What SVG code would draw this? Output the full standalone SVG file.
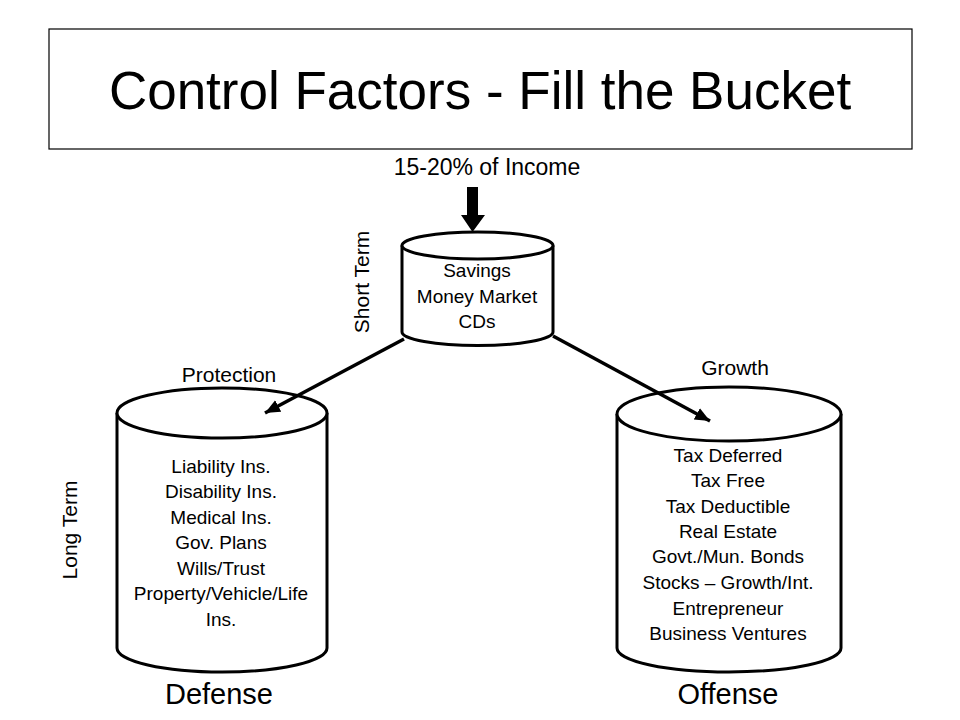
<svg xmlns="http://www.w3.org/2000/svg" width="960" height="720" viewBox="0 0 960 720">
<style>
text{font-family:"Liberation Sans",Arial,sans-serif;fill:#000;text-anchor:middle}
.body{font-size:19px}
.lab{font-size:21px}
.big{font-size:29px}
.cyl{fill:#fff;stroke:#000;stroke-width:3}
.conn{stroke:#000;stroke-width:3.5;fill:none}
</style>
<defs>
<marker id="ah" markerUnits="userSpaceOnUse" markerWidth="16" markerHeight="14" refX="15" refY="6.5" orient="auto">
<path d="M0,0 L15,6.5 L0,13 z" fill="#000"/>
</marker>
</defs>
<rect width="960" height="720" fill="#fff"/>
<g id="title">
<rect x="49" y="29" width="863" height="120" fill="#fff" stroke="#000" stroke-width="1.2"/>
<text x="480" y="109" style="font-size:53px">Control Factors - Fill the Bucket</text>
</g>
<g id="income">
<text x="487" y="175" style="font-size:23px">15-20% of Income</text>
</g>
<g id="short">
<path class="cyl" d="M402,245.5 V332 A75.5,13.5 0 0 0 553,332 V245.5"/>
<ellipse class="cyl" cx="477.5" cy="245.5" rx="75.5" ry="13.5"/>
<text class="body" x="477" y="277">Savings</text>
<text class="body" x="477" y="303">Money Market</text>
<text class="body" x="477" y="328">CDs</text>
<text class="lab" transform="translate(369,282) rotate(-90)">Short Term</text>
</g>
<g id="defense">
<path class="cyl" d="M117,413 V648 A105,24 0 0 0 327,648 V413"/>
<ellipse class="cyl" cx="222" cy="413" rx="105" ry="25"/>
<text class="lab" x="229" y="382">Protection</text>
<text class="body" x="221" y="473">Liability Ins.</text>
<text class="body" x="221" y="498">Disability Ins.</text>
<text class="body" x="221" y="524">Medical Ins.</text>
<text class="body" x="221" y="549">Gov. Plans</text>
<text class="body" x="221" y="575">Wills/Trust</text>
<text class="body" x="221" y="600">Property/Vehicle/Life</text>
<text class="body" x="221" y="626">Ins.</text>
<text class="big" x="219" y="704">Defense</text>
<text class="lab" transform="translate(77,530) rotate(-90)">Long Term</text>
</g>
<g id="offense">
<path class="cyl" d="M617,414 V648 A112,24 0 0 0 841,648 V414"/>
<ellipse class="cyl" cx="729" cy="414" rx="112" ry="27"/>
<text class="lab" x="735" y="375">Growth</text>
<text class="body" x="728" y="462">Tax Deferred</text>
<text class="body" x="728" y="487">Tax Free</text>
<text class="body" x="728" y="513">Tax Deductible</text>
<text class="body" x="728" y="538">Real Estate</text>
<text class="body" x="728" y="563">Govt./Mun. Bonds</text>
<text class="body" x="728" y="589">Stocks – Growth/Int.</text>
<text class="body" x="728" y="615">Entrepreneur</text>
<text class="body" x="728" y="640">Business Ventures</text>
<text class="big" x="728" y="704">Offense</text>
</g>
<g id="connectors">
<polygon points="467,187 478,187 478,215 485,215 472.5,232 461,215 467,215" fill="#000"/>
<line class="conn" x1="404" y1="339" x2="265" y2="413" marker-end="url(#ah)"/>
<line class="conn" x1="553" y1="336" x2="710" y2="421" marker-end="url(#ah)"/>
</g>
</svg>
